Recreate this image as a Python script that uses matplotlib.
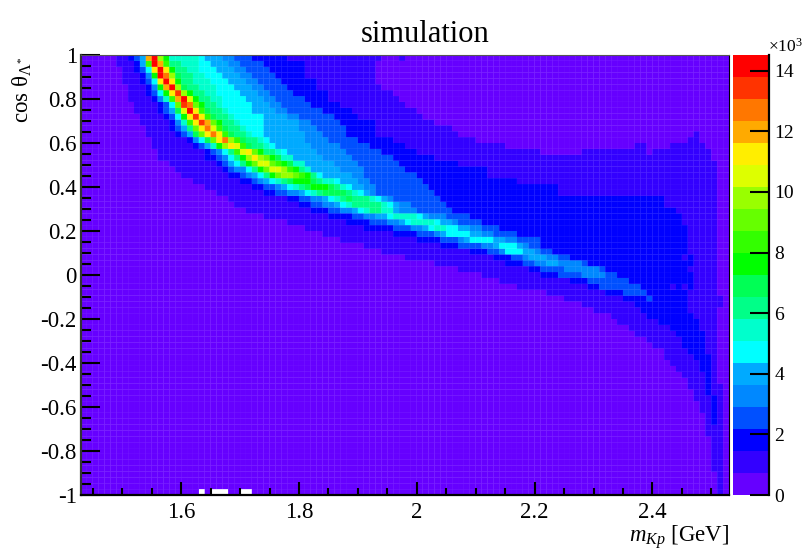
import numpy as np
import matplotlib
matplotlib.use('Agg')
import matplotlib.pyplot as plt
from matplotlib.colors import ListedColormap, BoundaryNorm, to_rgb

plt.rcParams['font.family'] = ['Liberation Serif', 'DejaVu Serif']
plt.rcParams['mathtext.fontset'] = 'custom'
plt.rcParams['mathtext.rm'] = 'Liberation Serif'
plt.rcParams['mathtext.it'] = 'Liberation Serif:italic'
plt.rcParams['mathtext.bf'] = 'Liberation Serif:bold'

# colour level of each cell, read row by row from the top: "start column:level"
hist_rows = [
    "0:0 6:1 8:2 9:3 10:5 11:16 12:19 13:13 14:10 15:7 20:6 21:5 24:4 26:3 29:2 35:1 51:0 54:1 55:0",
    "0:0 6:1 9:2 10:5 11:11 12:19 13:16 14:11 15:8 17:7 20:6 22:5 25:4 27:3 31:2 38:1 50:0",
    "0:0 7:1 9:2 10:3 11:6 12:15 13:19 14:15 15:10 16:8 18:7 20:6 23:5 26:4 28:3 32:2 38:1 50:0",
    "0:0 7:1 10:2 11:4 12:10 13:19 14:17 15:13 16:9 17:8 19:7 21:6 24:5 27:4 29:3 33:2 38:1 50:0",
    "0:0 7:1 10:2 11:3 12:6 13:15 14:19 15:15 16:10 17:8 19:7 22:6 25:5 28:4 30:3 34:2 40:1 50:0",
    "0:0 8:1 11:2 12:4 13:10 14:16 15:19 16:13 17:9 18:8 20:7 23:6 26:5 29:4 31:3 35:2 40:1 51:0",
    "0:0 8:1 11:2 12:3 13:6 14:10 15:15 16:18 17:13 18:10 19:8 21:7 23:6 27:5 30:4 32:3 36:2 42:1 53:0",
    "0:0 8:1 12:2 13:4 14:7 15:11 16:16 17:19 18:14 19:10 20:8 22:7 24:6 28:5 31:4 33:3 38:2 42:1 54:0",
    "0:0 9:1 13:2 14:3 15:6 16:12 17:18 18:17 19:12 20:10 21:8 23:7 24:6 29:5 32:4 34:3 39:2 44:1 55:0",
    "0:0 9:1 13:2 14:3 15:5 16:9 17:14 18:19 19:15 20:11 21:9 22:8 24:7 25:6 29:5 33:4 35:3 41:2 46:1 57:0",
    "0:0 10:1 14:2 15:3 16:6 17:10 18:15 19:18 20:15 21:11 22:9 23:8 25:7 26:6 31:5 35:4 37:3 43:2 47:1 58:0",
    "0:0 10:1 15:2 16:4 17:7 18:11 19:15 20:18 21:16 22:12 23:10 24:8 26:7 27:6 31:5 37:4 39:3 44:2 50:1 60:0",
    "0:0 11:1 15:2 16:3 17:5 18:8 19:12 20:15 21:17 22:14 23:11 24:9 25:8 27:7 28:6 31:5 37:4 40:3 45:2 50:1 63:0",
    "0:0 11:1 16:2 17:3 18:5 19:9 20:12 21:15 22:17 23:15 24:11 25:9 26:8 28:7 29:6 31:5 38:4 41:3 45:2 50:1 64:0 104:1 105:0",
    "0:0 12:1 18:2 19:4 20:6 21:9 22:12 23:15 24:17 25:13 26:11 27:9 28:8 30:7 31:6 32:5 38:4 42:3 47:2 53:1 67:0 103:1 105:0",
    "0:0 12:1 19:2 20:3 21:5 22:7 23:10 24:13 25:15 26:14 27:11 28:9 29:8 31:7 32:6 33:5 39:4 44:3 49:2 55:1 72:0 94:1 96:0 100:1 106:0",
    "0:0 13:1 21:2 22:3 23:4 24:6 25:8 26:11 27:14 28:15 29:12 30:10 31:8 33:7 34:6 35:5 40:4 45:3 51:2 57:1 78:0 85:1 96:0 97:1 107:0",
    "0:0 13:1 21:2 23:3 24:4 25:6 26:8 27:10 28:13 29:15 30:13 31:12 32:10 33:9 34:7 36:5 41:4 46:3 53:2 60:1 107:0",
    "0:0 15:1 23:2 24:3 25:5 26:6 27:8 28:10 29:12 30:14 31:14 32:12 33:11 34:10 35:9 36:7 38:5 43:4 47:3 54:2 64:1 108:0",
    "0:0 16:1 24:2 25:3 26:4 28:6 29:8 30:10 31:12 32:14 33:14 34:13 35:11 36:10 37:8 38:7 39:5 44:4 48:3 55:2 69:1 108:0",
    "0:0 17:1 25:2 27:3 28:4 29:5 30:6 31:8 32:10 33:12 34:13 35:13 36:12 37:11 38:10 39:8 40:6 41:5 46:4 48:3 57:2 69:1 108:0",
    "0:0 19:1 27:2 29:3 30:4 31:5 32:6 33:7 34:8 35:9 36:10 37:10 38:10 39:9 40:8 41:7 43:6 44:5 47:4 49:3 58:2 74:1 108:0",
    "0:0 21:1 29:2 31:3 33:4 34:5 35:6 36:7 37:8 38:9 39:10 40:10 41:10 42:9 43:8 44:7 45:6 46:5 48:4 50:3 59:2 81:1 108:0",
    "0:0 23:1 31:2 33:3 35:4 37:5 38:6 39:7 40:8 41:9 45:8 46:7 47:6 48:5 49:4 50:3 60:2 81:1 108:0",
    "0:0 25:1 35:2 37:3 39:4 41:5 42:6 43:7 44:8 45:9 46:8 49:7 50:6 51:5 52:4 53:3 61:2 99:1 108:0",
    "0:0 26:1 37:2 39:3 41:4 43:5 44:6 45:7 46:8 50:8 51:7 52:6 53:5 54:4 56:3 62:2 99:1 108:0",
    "0:0 28:1 39:2 42:3 44:4 46:5 47:6 48:7 49:8 51:7 53:5 54:4 57:3 63:2 101:1 108:0",
    "0:0 31:1 42:2 46:3 48:4 50:5 52:6 53:7 56:7 57:6 58:5 59:4 62:3 66:2 102:1 108:0",
    "0:0 35:1 45:2 49:3 52:4 54:5 55:6 56:7 59:7 60:6 61:5 63:4 64:3 68:2 102:1 108:0",
    "0:0 38:1 48:2 53:3 56:4 58:5 59:6 60:7 62:6 64:5 66:4 68:3 71:2 103:1 108:0",
    "0:0 41:1 53:2 57:3 60:4 61:5 62:6 66:5 68:4 70:3 74:2 103:1 108:0",
    "0:0 44:1 57:2 61:3 64:4 65:5 66:6 70:5 72:4 74:3 78:2 103:1 108:0",
    "0:0 48:1 61:2 64:3 68:4 70:5 71:6 74:5 75:4 76:3 78:2 103:1 108:0",
    "0:0 51:1 66:2 69:3 71:4 72:6 75:5 77:4 78:3 80:2 103:1 108:0",
    "0:0 55:1 70:2 73:3 75:4 76:5 79:4 81:3 83:2 102:1 103:2 104:1 108:0",
    "0:0 60:1 72:2 75:3 77:4 79:5 81:4 85:3 86:2 104:1 108:0",
    "0:0 64:1 76:2 78:3 82:4 88:3 89:2 103:1 108:0",
    "0:0 68:1 78:2 81:3 85:4 89:3 91:2 104:1 108:0",
    "0:0 71:1 83:2 86:3 93:2 104:1 108:0",
    "0:0 74:1 86:2 88:3 95:2 100:1 101:2 102:1 103:2 104:1 108:0",
    "0:0 79:1 89:2 92:3 96:2 103:1 108:0",
    "0:0 82:1 92:2 96:3 97:2 103:1 109:0",
    "0:0 85:1 94:2 103:1 109:0",
    "0:0 87:1 95:2 103:1 108:0",
    "0:0 90:1 96:2 104:1 108:0",
    "0:0 91:1 98:2 105:1 108:0",
    "0:0 93:1 100:2 105:1 108:0",
    "0:0 94:1 101:2 106:1 108:0",
    "0:0 96:1 102:2 106:1 108:0",
    "0:0 97:1 102:2 106:1 108:0",
    "0:0 99:1 103:2 106:1 108:0",
    "0:0 99:1 104:2 107:1 108:0",
    "0:0 100:1 105:2 107:1 108:0",
    "0:0 101:1 105:2 107:1 108:0",
    "0:0 102:1 106:2 107:1 108:0",
    "0:0 103:1 106:2 107:1 108:0",
    "0:0 103:1 106:2 107:1 109:0",
    "0:0 104:1 106:2 107:1 109:0",
    "0:0 104:1 107:2 108:1 109:0",
    "0:0 105:1 107:2 108:1 109:0",
    "0:0 105:1 107:2 108:1 109:0",
    "0:0 106:1 107:2 108:1 109:0",
    "0:0 106:1 107:2 108:1 109:0",
    "0:0 106:1 109:0",
    "0:0 106:1 109:0",
    "0:0 107:1 109:0",
    "0:0 107:1 109:0",
    "0:0 107:1 109:0",
    "0:0 107:1 109:0",
    "0:0 107:1 109:0",
    "0:0 107:1 109:0",
    "0:0 108:1 109:0",
    "0:0 108:1 109:0",
    "0:0 108:1 109:0",
    "0:0 20:-1 21:0 22:-1 25:0 27:-1 29:0 108:1 109:0",
]

palette = ['#6600ff', '#3300ff', '#0000ff', '#0050ff', '#0088ff', '#00aaff', '#00ffff',
           '#00ffcc', '#00ff88', '#00ff55', '#00ff00', '#33ff00', '#66ff00', '#99ff00',
           '#ddff00', '#ffee00', '#ffaa00', '#ff7700', '#ff3300', '#ff0000']

n_cols = 110
x_min, x_max = 1.43, 2.53
z_max = 14.52   # thousands
x_ticks = [1.6, 1.8, 2.0, 2.2, 2.4]
x_labels = ['1.6', '1.8', '2', '2.2', '2.4']
y_ticks = [-1, -0.8, -0.6, -0.4, -0.2, 0, 0.2, 0.4, 0.6, 0.8, 1]
y_labels = ['-1', '-0.8', '-0.6', '-0.4', '-0.2', '0', '0.2', '0.4', '0.6', '0.8', '1']
z_ticks = [0, 2, 4, 6, 8, 10, 12, 14]

# expand the runs into a level grid, row 0 is the top of the plot
levels = np.zeros((len(hist_rows), n_cols))
for i, row in enumerate(hist_rows):
    runs = [r.split(':') for r in row.split()]
    for k, (start, lev) in enumerate(runs):
        stop = int(runs[k + 1][0]) if k + 1 < len(runs) else n_cols
        levels[i, int(start):stop] = int(lev)

step = z_max / len(palette)
z = np.ma.masked_less(levels, 0)[::-1] * step + step / 2
x_edges = np.linspace(x_min, x_max, n_cols + 1)
y_edges = np.linspace(-1, 1, len(hist_rows) + 1)

W, H = 810, 551
fig = plt.figure(figsize=(W / 100, H / 100), dpi=100)
ax = fig.add_axes([81 / W, (H - 495) / H, 648 / W, 440 / H])
cax = fig.add_axes([733 / W, (H - 495) / H, 36 / W, 440 / H])

cmap = ListedColormap(palette)
norm = BoundaryNorm(np.arange(len(palette) + 1) * step, len(palette))
# a paler copy underneath, so the antialiased cells on top leave only faint seams
pale = ListedColormap([tuple(0.55 * c + 0.45 for c in to_rgb(p)) for p in palette])
ax.pcolormesh(x_edges, y_edges, z, cmap=pale, norm=norm, antialiased=False)
mesh = ax.pcolor(x_edges, y_edges, z, cmap=cmap, norm=norm, antialiased=True,
                 edgecolor='none', linewidth=0)

ax.set_xlim(x_min, x_max)
ax.set_ylim(-1, 1)
ax.set_xticks(x_ticks, x_labels)
ax.set_yticks(y_ticks, y_labels)
ax.set_xticks(np.arange(1.45, 2.53, 0.05), minor=True)
ax.set_yticks(np.arange(-1, 1.01, 0.05), minor=True)
ax.tick_params(axis='x', which='major', direction='in', length=9.5, width=1.5, labelsize=16.5, pad=5)
ax.tick_params(axis='x', which='minor', direction='in', length=4.7, width=1.5)
ax.tick_params(axis='y', which='major', direction='in', length=13.7, width=1.5, labelsize=16.5, pad=3)
ax.tick_params(axis='y', which='minor', direction='in', length=6.9, width=1.5)
for side in ['left', 'bottom']:
    ax.spines[side].set_linewidth(1.6)
ax.spines['top'].set_color('#555555')
ax.spines['left'].set_color('#333333')

cb = fig.colorbar(mesh, cax=cax, ticks=z_ticks, spacing='uniform')
cb.outline.set_visible(False)
cax.spines['right'].set_visible(True)
cax.spines['right'].set_linewidth(1.6)
cax.minorticks_off()
cax.tick_params(axis='y', which='major', direction='in', length=13.7, width=1.5, labelsize=14, pad=4)
cax.set_yticklabels([str(t) for t in z_ticks])

fig.text(425 / W, 1 - 35 / H, 'simulation', fontsize=22, ha='center', va='center')
fig.text(729 / W, 1 - 537 / H, r'$m_{Kp}$ [GeV]', fontsize=16.5, ha='right', va='center')
fig.text(22 / W, 1 - 57 / H, r'cos $\mathrm{\theta}_{\Lambda^{*}}$', fontsize=16.5, rotation=90, ha='center', va='top')
fig.text(768 / W, 1 - 47 / H, r'$\times$10$^{3}$', fontsize=12.5, ha='left', va='center')

fig.savefig('out.png', dpi=100)
